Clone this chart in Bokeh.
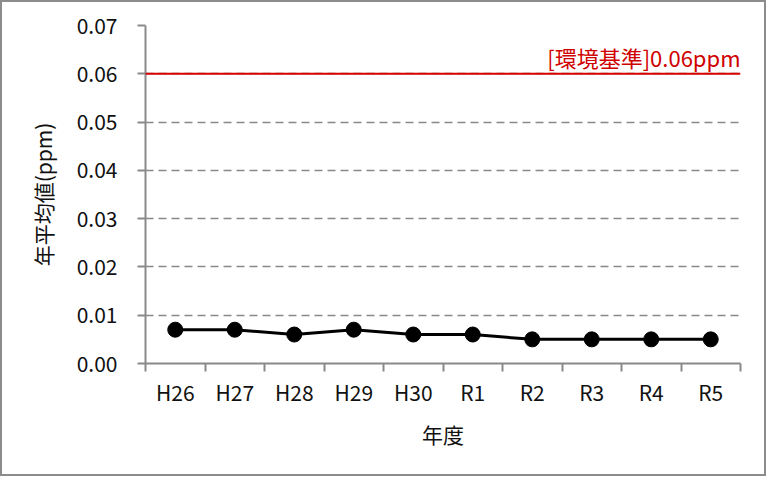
from bokeh.plotting import figure
from bokeh.models import Range1d, FixedTicker, PrintfTickFormatter, ColumnDataSource, Span
from bokeh.core.properties import value
from bokeh.embed import file_html
from bokeh.resources import INLINE

years = ["H26", "H27", "H28", "H29", "H30", "R1", "R2", "R3", "R4", "R5"]
values = [0.007, 0.007, 0.006, 0.007, 0.006, 0.006, 0.005, 0.005, 0.005, 0.005]
standard = 0.06
standard_label = "[環境基準]0.06ppm"
y_ticks = [0.0, 0.01, 0.02, 0.03, 0.04, 0.05, 0.06, 0.07]

FONT = "Noto Sans CJK JP"
GRAY = "#898989"
TXT = "#111111"

xs = [i + 0.5 for i in range(len(years))]
src = ColumnDataSource(dict(x=xs, y=values))

p = figure(width=766, height=476, output_backend="svg", toolbar_location=None,
           x_range=Range1d(0, len(years)), y_range=Range1d(0, 0.07),
           min_border_left=143, min_border_right=28, min_border_top=23, min_border_bottom=115)
p.styles = {"border": "2px solid #8c8c8c"}
p.outline_line_color = None
p.background_fill_color = "white"
p.border_fill_color = "white"

# x axis: labels at category centres, tick marks at category boundaries
xa = p.xaxis[0]
xa.ticker = FixedTicker(ticks=xs, minor_ticks=list(range(len(years) + 1)))
xa.major_label_overrides = {x: y for x, y in zip(xs, years)}
xa.major_tick_line_color = None
xa.minor_tick_line_color = GRAY
xa.minor_tick_line_width = 2
xa.minor_tick_out = 8
xa.minor_tick_in = 0
xa.axis_line_color = GRAY
xa.axis_line_width = 2
xa.major_label_text_font = FONT
xa.major_label_text_font_size = "21px"
xa.major_label_text_color = TXT
xa.major_label_standoff = 5
xa.axis_label = "年度"
xa.axis_label_text_font = FONT
xa.axis_label_text_font_size = "21px"
xa.axis_label_text_font_style = "normal"
xa.axis_label_text_color = TXT
xa.axis_label_standoff = 9

ya = p.yaxis[0]
ya.ticker = FixedTicker(ticks=y_ticks, minor_ticks=[])
ya.formatter = PrintfTickFormatter(format="%.2f")
ya.major_tick_line_color = GRAY
ya.major_tick_line_width = 2
ya.major_tick_out = 8
ya.major_tick_in = 0
ya.axis_line_color = GRAY
ya.axis_line_width = 2
ya.major_label_text_font = FONT
ya.major_label_text_font_size = "21px"
ya.major_label_text_color = TXT
ya.major_label_standoff = 20
ya.axis_label = "年平均値(ppm)"
ya.axis_label_text_font = FONT
ya.axis_label_text_font_size = "21px"
ya.axis_label_text_font_style = "normal"
ya.axis_label_text_color = TXT
ya.axis_label_standoff = 16

p.xgrid.grid_line_color = None
p.ygrid.ticker = FixedTicker(ticks=y_ticks[1:])
p.ygrid.grid_line_color = GRAY
p.ygrid.grid_line_width = 1.5
p.ygrid.grid_line_dash = "8 5"

# environmental standard line
p.add_layout(Span(location=standard, dimension="width", line_color="#d60000", line_width=2))
p.text(x=[len(years)], y=[standard], text=[standard_label], text_align="right",
       text_baseline="bottom", y_offset=-1, text_color="#d00000",
       text_font=value(FONT), text_font_size="22px")

# series
p.line("x", "y", source=src, line_color="black", line_width=3)
p.scatter("x", "y", source=src, size=15, fill_color="black", line_color="black")

open("out.html", "w").write(file_html(p, INLINE))
